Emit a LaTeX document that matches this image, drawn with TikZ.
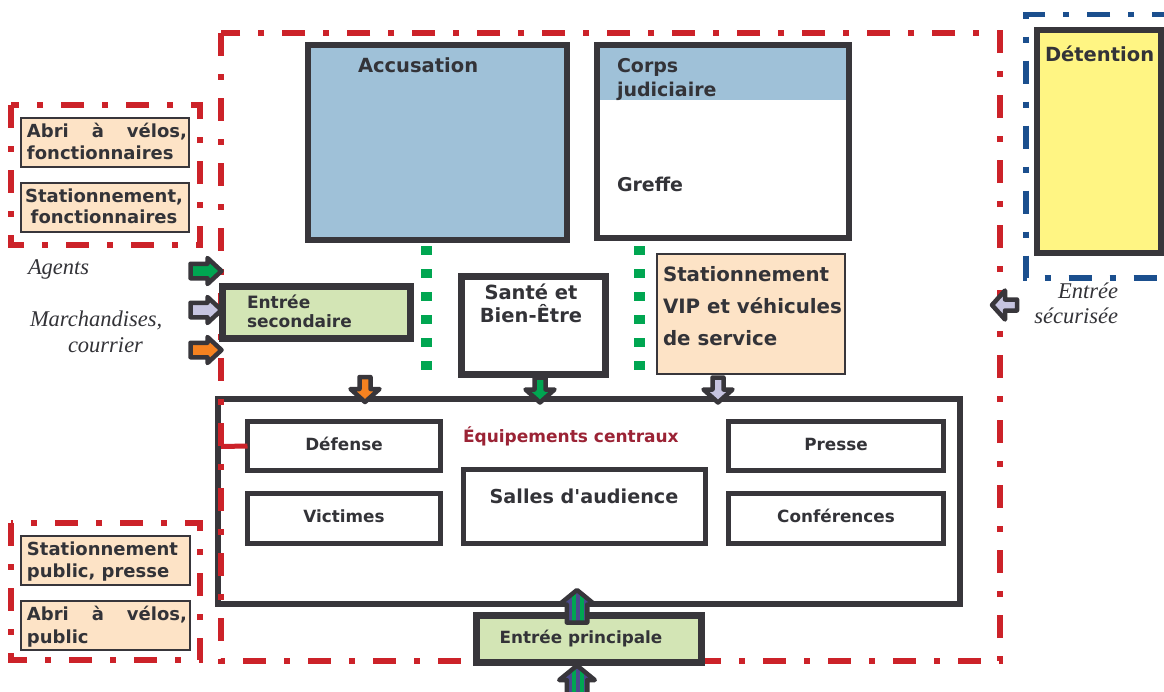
\documentclass[tikz,border=0pt]{standalone}
\usepackage{fontspec}
\setmainfont{DejaVu Sans}
\newfontfamily\tms{Liberation Serif}
\definecolor{dk}{HTML}{38363B}
\definecolor{rd}{HTML}{CC2229}
\definecolor{bl}{HTML}{1B4F8E}
\definecolor{accblue}{HTML}{9FC1D8}
\definecolor{yel}{HTML}{FFF583}
\definecolor{peach}{HTML}{FDE3C6}
\definecolor{lgreen}{HTML}{D3E5B5}
\definecolor{dgreen}{HTML}{00A651}
\definecolor{org}{HTML}{F58220}
\definecolor{lav}{HTML}{C6C4E0}
\definecolor{purp}{HTML}{4B4A8C}
\definecolor{tx}{HTML}{333338}
\definecolor{ttl}{HTML}{9B2335}
\newcommand{\fs}[1]{\fontsize{#1}{#1}\selectfont}
\tikzset{
  box/.style={draw=dk, line width=6pt, rectangle, inner sep=0pt, outer sep=0pt, anchor=north west},
  thinbox/.style={box, line width=2.5pt, fill=peach},
  lbl/.style={text=tx, inner sep=0pt, outer sep=0pt, anchor=base west, font=\bfseries\fs{18}},
  ilbl/.style={text=tx, inner sep=0pt, outer sep=0pt, anchor=base west, font=\tms\itshape\fs{22.5}},
  redline/.style={draw=rd, line width=5.5pt, dash pattern=on 23pt off 18pt on 6pt off 18pt},
  blueline/.style={draw=bl, line width=5.5pt, dash pattern=on 23pt off 18pt on 6pt off 18pt},
  greendots/.style={draw=dgreen, line width=11pt, dash pattern=on 9pt off 14pt},
  barrow/.pic={
    \filldraw[draw=dk, line width=4.5pt, line join=round, fill=#1]
      (-15,-7.25) -- (2,-7.25) -- (2,-13) -- (16,0) -- (2,13) -- (2,7.25) -- (-15,7.25) -- cycle;
  },
  darrow/.pic={
    \filldraw[draw=dk, line width=4.5pt, line join=round, fill=#1]
      (-12,-5.5) -- (0,-5.5) -- (0,-14.5) -- (13,0) -- (0,14.5) -- (0,5.5) -- (-12,5.5) -- cycle;
  },
  stripearrow/.pic={
    \fill[purp] (-17,-10.25) -- (1,-10.25) -- (1,-17.75) -- (15.5,0) -- (1,17.75) -- (1,10.25) -- (-17,10.25) -- cycle;
    \begin{scope}
      \clip (-17,-10.25) -- (1,-10.25) -- (1,-17.75) -- (15.5,0) -- (1,17.75) -- (1,10.25) -- (-17,10.25) -- cycle;
      \fill[dgreen] (-20,-5.5) rectangle (20,-1.5);
      \fill[dgreen] (-20,2.5) rectangle (20,6.5);
    \end{scope}
    \draw[dk, line width=4.5pt, line join=round]
      (-17,-10.25) -- (1,-10.25) -- (1,-17.75) -- (15.5,0) -- (1,17.75) -- (1,10.25) -- (-17,10.25) -- cycle;
  }
}
\begin{document}
\begin{tikzpicture}[x=1pt,y=-1pt]
\useasboundingbox (0,0) rectangle (1164,691);
\clip (0,0) rectangle (1164,691);
\fill[white] (0,0) rectangle (1164,691);

% top boxes
\node[box, fill=accblue, minimum width=259pt, minimum height=195pt] (acc) at (308,45) {};
\node[lbl, font=\bfseries\fs{19.5}] (tacc) at (358,72) {Accusation};

\node[box, fill=white, draw=none, minimum width=252pt, minimum height=193pt] (corps) at (597,45) {};
\fill[accblue] (corps.north west) rectangle ([yshift=-55pt]corps.north east);
\draw[dk, line width=6pt] (corps.north west) rectangle (corps.south east);
\node[lbl, font=\bfseries\fs{19}] (tcorps1) at (617,72) {Corps};
\node[lbl, font=\bfseries\fs{19}] (tcorps2) at (617,96) {judiciaire};
\node[lbl, font=\bfseries\fs{19}] (tgreffe) at (617,191) {Greffe};

% detention
\draw[blueline] (1175,14.5) -- (1026,14.5) -- (1026,278) -- (1175,278);
\node[box, fill=yel, minimum width=124pt, minimum height=223pt] (det) at (1037,30) {};
\node[lbl, font=\bfseries\fs{19.5}] (tdet) at (1045,61) {Détention};

% central block
\node[box, fill=white, minimum width=742pt, minimum height=205pt] (central) at (218,399) {};
\node[lbl, text=ttl, font=\bfseries\fs{17}] (tcentral) at (463,442) {Équipements centraux};
\node[box, line width=5pt, minimum width=193pt, minimum height=49pt] (def) at (247.5,421.5) {};
\node[lbl, font=\bfseries\fs{16.8}, anchor=base] (tdef) at (344,450) {Défense};
\node[box, line width=5pt, minimum width=193pt, minimum height=50pt] (vic) at (247.5,493) {};
\node[lbl, font=\bfseries\fs{16.8}, anchor=base] (tvic) at (344,522) {Victimes};
\node[box, line width=5pt, minimum width=242pt, minimum height=74pt] (salles) at (463,469) {};
\node[lbl, font=\bfseries\fs{19.2}, anchor=base] (tsalles) at (584,503) {Salles d\textquotesingle audience};
\node[box, line width=5pt, minimum width=215pt, minimum height=49pt] (presse) at (728,421.5) {};
\node[lbl, font=\bfseries\fs{16.8}, anchor=base] (tpresse) at (836,450) {Presse};
\node[box, line width=5pt, minimum width=215pt, minimum height=50pt] (conf) at (728,493) {};
\node[lbl, font=\bfseries\fs{16.8}, anchor=base] (tconf) at (836,522) {Conférences};

% red perimeters
\draw[redline] (221,33) rectangle (1000,661);
\draw[redline] (11,105) rectangle (200,245);
\draw[redline] (11,523) rectangle (200,660);
\coordinate (redl) at (221,446.5);
\draw[rd, line width=5pt] (redl) -- (def.west);

% left peach boxes
\node[thinbox, minimum width=168pt, minimum height=49pt] (abri1) at (21,118) {};
\node[lbl] (tabri1a) at (27,137) {\makebox[160pt][s]{Abri à vélos,}};
\node[lbl] (tabri1b) at (27,159) {fonctionnaires};
\node[thinbox, minimum width=168pt, minimum height=49pt] (stat1) at (21,183) {};
\node[lbl, anchor=base] (tstat1a) at (104,202) {Stationnement,};
\node[lbl, anchor=base] (tstat1b) at (104,223) {fonctionnaires};
\node[thinbox, minimum width=169pt, minimum height=49pt] (stat2) at (21,536) {};
\node[lbl] (tstat2a) at (27,555) {Stationnement};
\node[lbl] (tstat2b) at (27,577) {public, presse};
\node[thinbox, minimum width=169pt, minimum height=49pt] (abri2) at (21,601) {};
\node[lbl] (tabri2a) at (27,620) {\makebox[160pt][s]{Abri à vélos,}};
\node[lbl] (tabri2b) at (27,643) {public};

% middle row
\node[box, line width=7pt, fill=lgreen, minimum width=188pt, minimum height=52pt] (sec) at (222,286) {};
\node[lbl, font=\bfseries\fs{17}] (tsec1) at (247,308) {Entrée};
\node[lbl, font=\bfseries\fs{17}] (tsec2) at (247,327) {secondaire};
\node[box, line width=7pt, fill=white, minimum width=144pt, minimum height=98pt] (sante) at (461,276) {};
\node[lbl, font=\bfseries\fs{19.5}, anchor=base] (tsante1) at (531,299) {Santé et};
\node[lbl, font=\bfseries\fs{19.5}, anchor=base] (tsante2) at (531,322) {Bien-Être};
\node[thinbox, minimum width=188pt, minimum height=120pt] (vip) at (657,254) {};
\node[lbl, font=\bfseries\fs{19.8}] (tvip1) at (663,281) {Stationnement};
\node[lbl, font=\bfseries\fs{19.8}] (tvip2) at (663,313) {VIP et véhicules};
\node[lbl, font=\bfseries\fs{19.8}] (tvip3) at (663,345) {de service};

% green dotted links
\coordinate (g1a) at (426,246); \coordinate (g1b) at (426,372);
\coordinate (g2a) at (639,246); \coordinate (g2b) at (639,372);
\draw[greendots] (g1a) -- (g1b);
\draw[greendots] (g2a) -- (g2b);

% entree principale
\node[box, line width=7pt, fill=lgreen, minimum width=225pt, minimum height=47pt] (princ) at (476,615) {};
\node[lbl, font=\bfseries\fs{16.8}, anchor=base] (tprinc) at (581,643) {Entrée principale};

% arrows
\pic at (205.5,271) {barrow=dgreen};
\pic at (205.5,310) {barrow=lav};
\pic at (205.5,350) {barrow=org};
\pic[rotate=-90] at (365,389) {darrow=org};
\pic[rotate=-90] at (540,389.5) {darrow=dgreen};
\pic[rotate=-90] at (718,389.5) {darrow=lav};
\pic[rotate=180] at (1005,305) {darrow=lav};
\pic[rotate=90] at (577,605.5) {stripearrow};
\pic[rotate=90] at (577,681) {stripearrow};

% italic labels
\node[ilbl] (lagents) at (28,274) {Agents};
\node[ilbl] (lmarch) at (30,326) {Marchandises,};
\node[ilbl] (lcourr) at (68,352) {courrier};
\node[ilbl, anchor=base east] (lentree) at (1118,298) {Entrée};
\node[ilbl, anchor=base east] (lsecur) at (1118,323) {sécurisée};
\end{tikzpicture}
\end{document}
